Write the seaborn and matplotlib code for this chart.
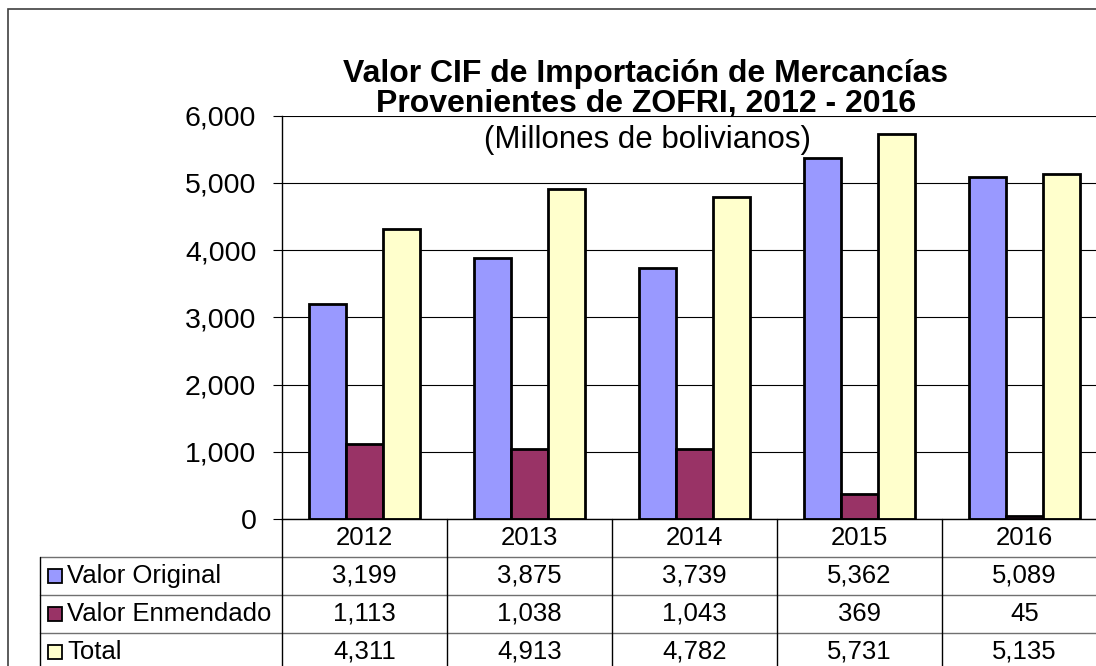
import numpy as np
import pandas as pd
import seaborn as sns
import matplotlib.pyplot as plt
from matplotlib.patches import Rectangle

# Data (millones de bolivianos)
years = ['2012', '2013', '2014', '2015', '2016']
valor_original = [3199, 3875, 3739, 5362, 5089]
valor_enmendado = [1113, 1038, 1043, 369, 45]
total = [4311, 4913, 4782, 5731, 5135]
series_names = ['Valor Original', 'Valor Enmendado', 'Total']
colors = ['#9999FF', '#993366', '#FFFFCC']

df = pd.DataFrame({
    'Año': years * 3,
    'Serie': np.repeat(series_names, len(years)),
    'Valor': valor_original + valor_enmendado + total,
})

sns.set_style('white')
plt.rcParams['font.family'] = ['Liberation Sans', 'DejaVu Sans']
plt.rcParams['text.color'] = 'black'

W, H = 1096, 666
fig = plt.figure(figsize=(W / 100, H / 100), dpi=100)


def px_axes(left, top, right, bottom):
    # axes placed in pixel coordinates of the image
    return fig.add_axes([left / W, 1 - bottom / H, (right - left) / W, (bottom - top) / H])


# outer chart frame
fig.add_artist(Rectangle((8 / W, -0.5), 2, 1.5 - 9 / H, fill=False,
                         edgecolor='#404040', lw=1.2, transform=fig.transFigure))

# main bar chart
ax = px_axes(282, 115.5, 1107, 519)
sns.barplot(data=df, x='Año', y='Valor', hue='Serie', palette=colors,
            width=0.67, gap=0, saturation=1, edgecolor='black', linewidth=2,
            errorbar=None, legend=False, ax=ax)
ax.set_xlim(-0.5, 4.5)
ax.set_ylim(0, 6000)
ax.set_yticks(range(0, 6001, 1000))
ax.yaxis.set_major_formatter(plt.FuncFormatter(lambda v, p: f'{v:,.0f}'))
ax.grid(axis='y', color='black', lw=0.8)
ax.set_axisbelow(True)
ax.set_xlabel('')
ax.set_ylabel('')
ax.tick_params(axis='y', length=6.5, width=0.8, pad=12, labelsize=20.5,
               colors='black', left=True)
ax.tick_params(axis='x', length=0, labelbottom=False)
for s in ['top', 'right']:
    ax.spines[s].set_visible(False)
for s in ['left', 'bottom']:
    ax.spines[s].set_color('black')
    ax.spines[s].set_linewidth(1)

# data table under the chart
n = len(years)
x_left = -0.5 - (282 - 40) / 165
tab = px_axes(40, 519, 1107, 671)
tab.set_xlim(x_left, n - 0.5)
tab.set_ylim(4, 0)
tab.axis('off')

for r in range(1, 5):
    tab.plot([x_left, n - 0.5], [r, r], color='#707070', lw=1, clip_on=False)
for i in range(n + 1):
    tab.plot([i - 0.5, i - 0.5], [0, 4], color='black', lw=1, clip_on=False)
tab.plot([x_left, x_left], [1, 4], color='black', lw=1, clip_on=False)

for i, yr in enumerate(years):
    tab.text(i, 0.5, yr, ha='center', va='center', fontsize=18.5)

rows = [valor_original, valor_enmendado, total]
for r, (name, vals, col) in enumerate(zip(series_names, rows, colors), start=1):
    tab.plot(x_left + 15 / 165, r + 0.5, marker='s', ms=9.5, mfc=col,
             mec='black', mew=1.3, clip_on=False)
    tab.text(x_left + 27 / 165, r + 0.5, name, ha='left', va='center', fontsize=18.5)
    for i, v in enumerate(vals):
        tab.text(i, r + 0.5, f'{v:,}', ha='center', va='center', fontsize=18.5)

# titles
fig.text(646 / W, 1 - 82 / H, 'Valor CIF de Importación de Mercancías',
         ha='center', va='baseline', fontsize=23, fontweight='bold')
fig.text(646 / W, 1 - 112 / H, 'Provenientes de ZOFRI, 2012 - 2016',
         ha='center', va='baseline', fontsize=23, fontweight='bold')
fig.text(647 / W, 1 - 148 / H, '(Millones de bolivianos)',
         ha='center', va='baseline', fontsize=22.5)

fig.savefig('out.png', dpi=100)
